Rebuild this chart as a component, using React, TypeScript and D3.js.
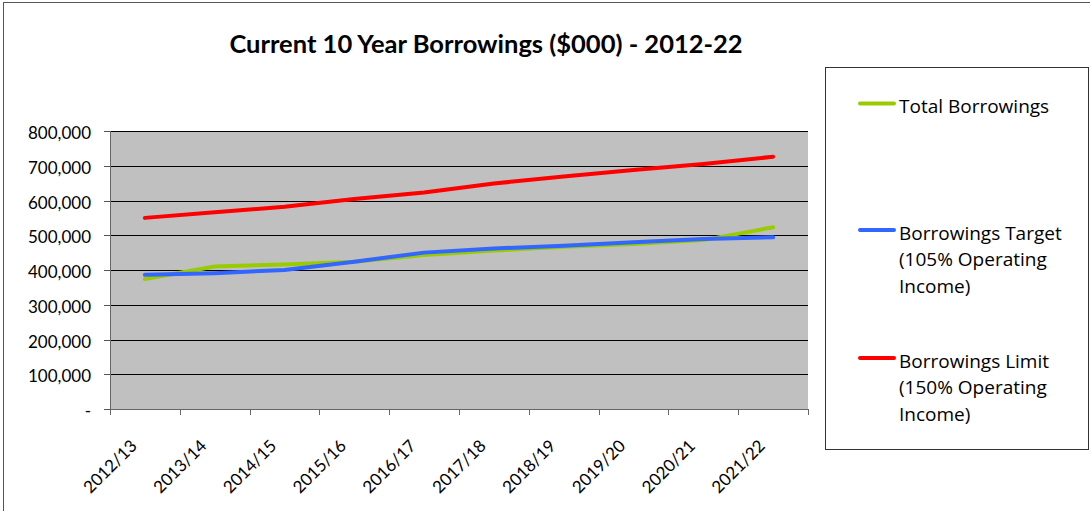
import React from "react";
import * as d3 from "d3";

const categories = ["2012/13","2013/14","2014/15","2015/16","2016/17","2017/18","2018/19","2019/20","2020/21","2021/22"];
const totalBorrowings = [374000, 410000, 416000, 424000, 443000, 456000, 467000, 475000, 486000, 523000];
const borrowingsTarget = [386000, 391000, 400000, 424000, 450000, 462000, 470000, 480000, 489000, 494000];
const borrowingsLimit = [550000, 566000, 582000, 604000, 623000, 649000, 669000, 688000, 705000, 726000];
const yTicks = [0, 100000, 200000, 300000, 400000, 500000, 600000, 700000, 800000];
const seriesNames = ["Total Borrowings", "Borrowings Target", "Borrowings Limit"];
const legendLines = [["Total Borrowings"], ["Borrowings Target", "(105% Operating", "Income)"], ["Borrowings Limit", "(150% Operating", "Income)"]];
const colors = ["#99CC00", "#3366FF", "#FF0000"];

export default function App() {
  const W = 1090, H = 511;
  const left = 110, right = 808, top = 131, bottom = 409;
  const x = d3.scaleBand<string>().domain(categories).range([left, right]);
  const y = d3.scaleLinear().domain([0, 800000]).range([bottom, top]);
  const fmt = d3.format(",");
  const line = d3.line<number>().x((_, i) => (x(categories[i]) as number) + x.bandwidth() / 2).y(d => y(d));
  const series = [totalBorrowings, borrowingsTarget, borrowingsLimit];
  const font = "Lato, 'Open Sans', sans-serif";
  const legendFont = "'Open Sans', Lato, sans-serif";
  const legendY = [103.5, 230, 358];
  return (
    <svg width={W} height={H} style={{ position: "absolute", left: 0, top: 0, background: "#fff" }} fontFamily={font}>
      <rect x={3.5} y={2.5} width={1100} height={520} fill="#fff" stroke="#555" strokeWidth={1} />
      <text x={486} y={53} textAnchor="middle" fontSize={25.5} fontWeight="bold" fill="#000">Current 10 Year Borrowings ($000) - 2012-22</text>
      <rect x={left} y={top} width={right - left} height={bottom - top} fill="#C0C0C0" />
      {yTicks.map(t => (
        <g key={t}>
          {t > 0 && <line x1={left} x2={right} y1={Math.round(y(t)) + 0.5} y2={Math.round(y(t)) + 0.5} stroke="#000" strokeWidth={1} />}
          <line x1={left - 6} x2={left} y1={Math.round(y(t)) + 0.5} y2={Math.round(y(t)) + 0.5} stroke="#555" />
          <text x={91} y={y(t) + 8} textAnchor="end" fontSize={17} fill="#000">{t === 0 ? "-" : fmt(t)}</text>
        </g>
      ))}
      <line x1={left + 0.5} x2={left + 0.5} y1={top} y2={bottom} stroke="#666" />
      <line x1={left} x2={right} y1={bottom + 0.5} y2={bottom + 0.5} stroke="#666" />
      {categories.concat(["end"]).map((c, i) => {
        const xx = Math.round(left + i * x.step()) + 0.5;
        return <line key={"t" + i} x1={xx} x2={xx} y1={bottom} y2={bottom + 6} stroke="#666" />;
      })}
      {categories.map(c => {
        const cx = (x(c) as number) + x.bandwidth() / 2 - 7;
        const cy = 447;
        return (
          <text key={c} x={cx} y={cy} textAnchor="end" fontSize={17} fill="#000" transform={`rotate(-45 ${cx} ${cy})`}>{c}</text>
        );
      })}
      {series.map((s, i) => (
        <path key={seriesNames[i]} d={line(s) as string} fill="none" stroke={colors[i]} strokeWidth={4} strokeLinejoin="round" strokeLinecap="round" />
      ))}
      <rect x={825.5} y={67.5} width={263} height={382} fill="#fff" stroke="#333" />
      {legendLines.map((ls, i) => (
        <g key={"l" + i}>
          <line x1={860} x2={894} y1={legendY[i]} y2={legendY[i]} stroke={colors[i]} strokeWidth={4} strokeLinecap="round" />
          {ls.map((t, j) => (
            <text key={j} x={899} y={legendY[i] + 9.5 + j * 26.5} fontSize={19} fontFamily={legendFont} fill="#000">{t}</text>
          ))}
        </g>
      ))}
    </svg>
  );
}
